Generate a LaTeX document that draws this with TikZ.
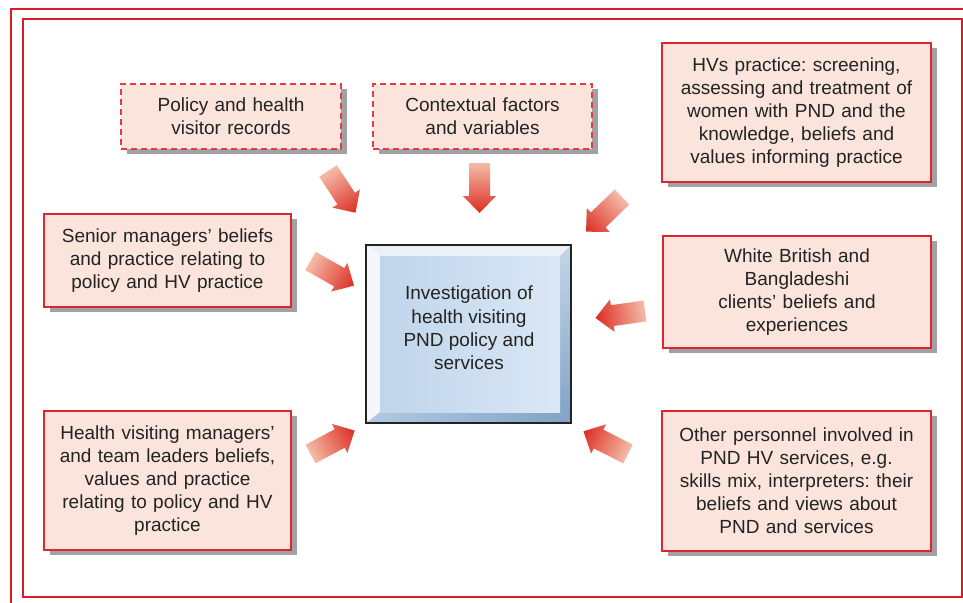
\documentclass[tikz,border=0pt]{standalone}
\usepackage{fontspec}
\setmainfont{Liberation Sans}
\usetikzlibrary{shadows}
\frenchspacing
\definecolor{framered}{RGB}{218,30,40}
\definecolor{boxfill}{RGB}{250,228,220}
\definecolor{boxline}{RGB}{220,38,48}
\definecolor{boxdash}{RGB}{228,60,70}
\definecolor{shadowc}{RGB}{160,160,165}
\definecolor{txt}{RGB}{35,35,35}
\definecolor{arrlight}{RGB}{244,188,168}
\definecolor{arrdark}{RGB}{220,45,35}
\definecolor{bevlight}{RGB}{244,247,251}
\definecolor{bevtop}{RGB}{236,241,248}
\definecolor{bevrtop}{RGB}{196,214,232}
\definecolor{bevrbot}{RGB}{128,162,198}
\definecolor{bevbl}{RGB}{178,202,226}
\definecolor{bevbr}{RGB}{128,162,198}
\definecolor{faceleft}{RGB}{192,213,235}
\definecolor{faceright}{RGB}{218,231,245}
\definecolor{outlinec}{RGB}{35,35,35}
\tikzset{
  infobox/.style={draw=boxline, line width=1.6pt, fill=boxfill, text=txt,
    align=center, inner sep=0pt, font=\fontsize{19}{23}\selectfont,
    drop shadow={shadow xshift=6pt, shadow yshift=-5pt, fill=shadowc, opacity=1}},
  dashbox/.style={infobox, draw=boxdash, dash pattern=on 6pt off 4pt},
  maintext/.style={text=txt, align=center, inner sep=0pt, font=\fontsize{19}{23.3}\selectfont}
}
\newcommand\blockarrow[4]{%
  \coordinate (#1) at (#2,#3);
  \begin{scope}[transform canvas={shift={(#1)}, rotate=#4}]
    \shade[left color=arrlight, right color=arrdark]
      (0,-10.5) -- (33,-10.5) -- (33,-16.5) -- (50,0) -- (33,16.5) -- (33,10.5) -- (0,10.5) -- cycle;
  \end{scope}}
\begin{document}
\begin{tikzpicture}[x=1pt, y=-1pt]
\useasboundingbox (0,0) rectangle (963,602);
\fill[white] (0,0) rectangle (963,602);
% frames
\draw[framered, line width=2.6pt] (975,9) -- (11,9) -- (11,615);
\draw[framered, line width=2.2pt] (23,19) rectangle (962,597);
% boxes
\node[dashbox, minimum width=220pt, minimum height=65pt, text width=215pt] (b1) at (231,116.5) {Policy and health\\visitor records};
\node[dashbox, minimum width=219pt, minimum height=65pt, text width=215pt] (b2) at (482.5,116.5) {Contextual factors\\and variables};
\node[infobox, minimum width=269pt, minimum height=139pt, text width=265pt] (b3) at (796.5,112.5) {HVs practice: screening,\\assessing and treatment of\\women with PND and the\\knowledge, beliefs and\\values informing practice};
\node[infobox, minimum width=247pt, minimum height=93pt, text width=243pt] (b4) at (167.5,260.5) {Senior managers’ beliefs\\and practice relating to\\policy and HV practice};
\node[infobox, minimum width=268pt, minimum height=112pt, text width=264pt] (b5) at (797,292) {White British and\\Bangladeshi\\clients’ beliefs and\\experiences};
\node[infobox, minimum width=247pt, minimum height=139pt, text width=243pt] (b6) at (167.5,480.5) {Health visiting managers’\\and team leaders beliefs,\\values and practice\\relating to policy and HV\\practice};
\node[infobox, minimum width=269pt, minimum height=140pt, text width=265pt] (b7) at (796.5,481) {Other personnel involved in\\PND HV services, e.g.\\skills mix, interpreters: their\\beliefs and views about\\PND and services};
% central bevelled box
\fill[bevtop] (366,245) -- (571,245) -- (560,256) -- (380,256) -- cycle;
\fill[bevlight] (366,245) -- (380,256) -- (380,412) -- (366,423) -- cycle;
\shade[top color=bevrtop, bottom color=bevrbot] (571,245) -- (571,423) -- (560,412) -- (560,256) -- cycle;
\shade[left color=bevbl, middle color=white, right color=bevbr] (366,423) -- (571,423) -- (560,412) -- (380,412) -- cycle;
\shade[left color=faceleft, right color=faceright] (380,256) rectangle (560,412);
\draw[outlinec, line width=1.3pt] (366,245) rectangle (571,423);
\node[maintext] (c) at (469,328) {Investigation of\\health visiting\\PND policy and\\services};
% block arrows
\blockarrow{a1}{328}{171}{-56.6}
\blockarrow{a2}{479.5}{163}{-90}
\blockarrow{a3}{622}{197}{-136}
\blockarrow{a4}{310.5}{261}{-29.5}
\blockarrow{a5}{645}{311}{188}
\blockarrow{a6}{310.5}{454}{28}
\blockarrow{a7}{628}{454}{153}
\end{tikzpicture}
\end{document}
